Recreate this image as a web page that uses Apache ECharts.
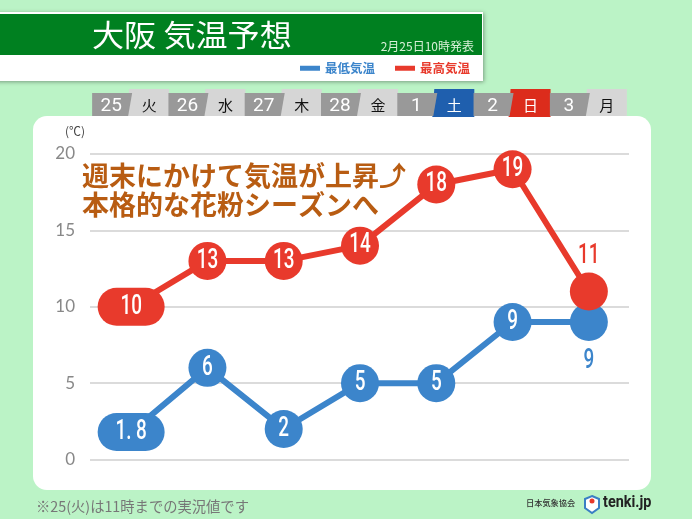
<!DOCTYPE html>
<html><head><meta charset="utf-8">
<style>html,body{margin:0;padding:0;background:#bbf3c6}#c{width:692px;height:519px}</style>
<script src="https://cdn.jsdelivr.net/npm/echarts@6/dist/echarts.min.js"></script>
</head><body><div id="c"></div>
<script>
const days = ['25','26','27','28','1','2','3'];
const weekdays = ['火','水','木','金','土','日','月'];
const lowTemps = [1.8,6,2,5,5,9,9];
const highTemps = [10,13,13,14,18,19,11];
const yTicks = [0,5,10,15,20];
const lowName = '最低気温', highName = '最高気温';
const RED='#e83a2c', BLUE='#3c85cb', JP='"Noto Sans CJK JP"';
const pill='path://M19 0H48A19 19 0 0 1 48 38H19A19 19 0 0 1 19 0Z';

function marks(vals){
  return vals.map((v,i)=>({value:v,symbol:i===0?pill:'circle',symbolSize:i===0?[67,38]:38}));
}
function series(name,vals,color,z){
  return {name,type:'line',xAxisIndex:1,yAxisIndex:1,data:marks(vals),z,
    lineStyle:{color,width:6},itemStyle:{color,opacity:1},label:{show:false}};
}
// value labels drawn as condensed text at each data point
function valueLabels(vals,color,lastOffset){
  return {type:'custom',xAxisIndex:1,yAxisIndex:1,silent:true,z:6,clip:false,legendHoverLink:false,
    data:vals.map((v,i)=>[i,v]),encode:{x:0,y:1},
    renderItem(params,api){
      const i=params.dataIndex,p=api.coord([i,api.value(1)]),last=i===vals.length-1;
      const txt=vals[i]===1.8?'1. 8':String(vals[i]);
      return {type:'text',x:p[0],y:p[1]+(last?lastOffset:0),scaleX:0.7,
        style:{text:txt,x:0,y:0,align:'center',verticalAlign:'middle',fontFamily:'Roboto',fontWeight:500,fontSize:27,fill:last?color:'#fff'}};
    }};
}
function tabs(params,api){
  const i=params.dataIndex, c=api.coord([i,0])[0];
  const satsun=weekdays[i]==='土'?'#1f5fae':weekdays[i]==='日'?'#dc2c1c':null;
  const bot=satsun?117:116;
  const light={type:'polygon',shape:{points:[[c-2,89],[c+38,89],[c+38,bot],[c-4,bot]]},style:{fill:satsun||'#d6d6d6'}};
  const dark={type:'polygon',shape:{points:[[c-39,93],[c+1,93],[c-3,116],[c-39,116]]},style:{fill:'#999999'}};
  return {type:'group',children:[light,dark,
    {type:'text',style:{text:days[i],x:c-20,y:106,align:'center',verticalAlign:'middle',fontFamily:'Roboto',fontSize:19,fill:'#fff'}},
    {type:'text',style:{text:weekdays[i],x:c+18,y:105,align:'center',verticalAlign:'middle',fontFamily:JP,fontSize:15,fill:satsun?'#fff':'#111'}}]};
}
const chart=echarts.init(document.getElementById('c'),null,{renderer:'canvas'});
chart.setOption({
  backgroundColor:'#bbf3c6',animation:false,
  legend:{data:[{name:lowName,icon:'rect'},{name:highName,icon:'rect'}],left:295,top:57,itemWidth:20,itemHeight:5,itemGap:20,
    selectedMode:false,textStyle:{color:'inherit',fontFamily:JP,fontWeight:'bold',fontSize:12.5}},
  grid:[{left:90,width:539,top:154,height:305.5},{left:93,width:534,top:154,height:305.5}],
  xAxis:[{type:'category',gridIndex:0,show:false,data:days},
         {type:'category',gridIndex:1,show:false,data:days}],
  yAxis:[{type:'value',gridIndex:0,min:0,max:20,interval:5,axisLine:{show:false},axisTick:{show:false},
          name:'(℃)',nameLocation:'end',nameGap:17,nameTextStyle:{color:'#444',fontFamily:JP,fontSize:12,align:'right',padding:[0,5,0,0]},
          axisLabel:{margin:15,color:'#888',fontFamily:'Lato',fontSize:17,formatter:v=>yTicks.includes(v)?String(v):''},
          splitLine:{lineStyle:{color:'#cfcfcf',width:1.5}}},
         {type:'value',gridIndex:1,min:0,max:20,interval:5,show:false}],
  series:[
    {type:'custom',xAxisIndex:1,yAxisIndex:1,silent:true,z:1,data:days.map((d,i)=>[i,0]),encode:{x:0,y:1},renderItem:tabs,clip:false},
    series(lowName,lowTemps,BLUE,3),
    series(highName,highTemps,RED,4),
    valueLabels(lowTemps,BLUE,39),
    valueLabels(highTemps,RED,-35)
  ],
  graphic:[
    {type:'rect',z:-5,shape:{x:33,y:116,width:618,height:374,r:14},style:{fill:'#fff'}},
    {type:'rect',z:-4,shape:{x:-10,y:12,width:493,height:69},style:{fill:'#fff',shadowBlur:4,shadowColor:'rgba(0,0,0,0.35)',shadowOffsetX:1,shadowOffsetY:1}},
    {type:'rect',z:-3,shape:{x:-10,y:14,width:492,height:41},style:{fill:'#008020'}},
    {type:'text',z:5,x:92,y:35,scaleX:1.07,style:{text:'大阪 気温予想',x:0,y:0,verticalAlign:'middle',fontFamily:JP,fontSize:30,fontWeight:400,fill:'#fff'}},
    {type:'text',z:5,style:{text:'2月25日10時発表',x:474,y:46,align:'right',verticalAlign:'middle',fontFamily:JP,fontSize:12,fill:'#d8f0d8'}},
    {type:'text',z:6,style:{text:'週末にかけて気温が上昇⤴',x:82,y:176,verticalAlign:'middle',fontFamily:JP+',"DejaVu Sans"',fontSize:27,fontWeight:'bold',fill:'#b85c12'}},
    {type:'text',z:6,style:{text:'本格的な花粉シーズンへ',x:82,y:205,verticalAlign:'middle',fontFamily:JP,fontSize:27,fontWeight:'bold',fill:'#b85c12'}},
    {type:'text',z:6,style:{text:'※25(火)は11時までの実況値です',x:36,y:507,verticalAlign:'middle',fontFamily:JP,fontSize:14.3,fill:'#777'}},
    {type:'text',z:6,style:{text:'日本気象協会',x:526,y:503,verticalAlign:'middle',fontFamily:JP,fontSize:8.2,fontWeight:500,fill:'#333'}},
    {type:'polygon',z:6,shape:{points:[[592,496],[599,499],[599,508],[592,513],[585,508],[585,499]]},style:{fill:'#fff',stroke:'#3a7fc4',lineWidth:2}},
    {type:'circle',z:7,shape:{cx:592,cy:501,r:2.5},style:{fill:'#e83a2c'}},
    {type:'text',z:6,x:603,y:503,scaleX:0.85,style:{text:'tenki.jp',x:0,y:0,verticalAlign:'middle',fontFamily:'Roboto',fontSize:17,fontWeight:'bold',fill:'#222'}}
  ]
});
</script></body></html>
